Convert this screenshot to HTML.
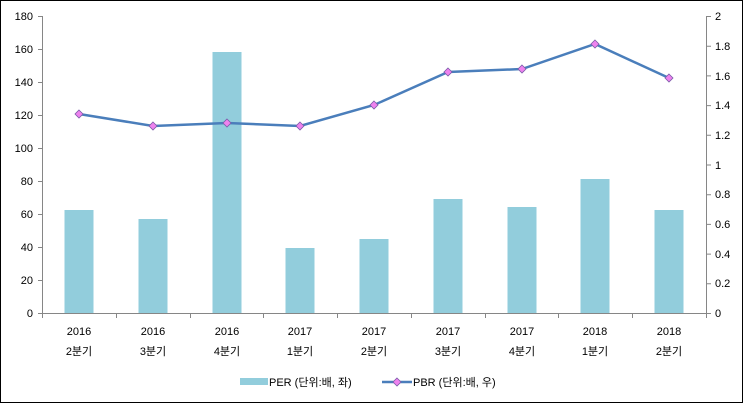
<!DOCTYPE html>
<html><head><meta charset="utf-8"><style>
html,body{margin:0;padding:0;background:#fff}
svg{display:block}
text{font-family:"Liberation Sans","Noto Sans CJK KR",sans-serif;font-size:11px;fill:#000}
</style></head><body>
<svg width="743" height="403" viewBox="0 0 743 403">
<rect x="0.5" y="0.5" width="742" height="402" fill="#fff" stroke="#000"/>
<g fill="#92cddc">
<rect x="64.5" y="210" width="29" height="103"/>
<rect x="138.5" y="219" width="29" height="94"/>
<rect x="212.5" y="52" width="29" height="261"/>
<rect x="285.5" y="248" width="29" height="65"/>
<rect x="359.5" y="239" width="29" height="74"/>
<rect x="433.5" y="199" width="29" height="114"/>
<rect x="507.5" y="207" width="29" height="106"/>
<rect x="580.5" y="179" width="29" height="134"/>
<rect x="654.5" y="210" width="29" height="103"/>
</g>
<g stroke="#868686" stroke-width="1" fill="none">
<path d="M42.5 16V313.5H706.5V16"/>
<path d="M38 16.5h4.5M38 49.5h4.5M38 82.5h4.5M38 115.5h4.5M38 148.5h4.5M38 181.5h4.5M38 214.5h4.5M38 247.5h4.5M38 280.5h4.5M38 313.5h4.5"/>
<path d="M706.5 16.5h4.5M706.5 46.2h4.5M706.5 75.9h4.5M706.5 105.6h4.5M706.5 135.3h4.5M706.5 165h4.5M706.5 194.7h4.5M706.5 224.4h4.5M706.5 254.1h4.5M706.5 283.8h4.5M706.5 313.5h4.5"/>
<path d="M42.5 313v5M116.5 313v5M190.5 313v5M263.5 313v5M337.5 313v5M411.5 313v5M485.5 313v5M558.5 313v5M632.5 313v5M706.5 313v5"/>
</g>
<g text-anchor="end">
<text x="33" y="20">180</text><text x="33" y="53">160</text><text x="33" y="86">140</text><text x="33" y="119">120</text><text x="33" y="152">100</text><text x="33" y="185">80</text><text x="33" y="218">60</text><text x="33" y="251">40</text><text x="33" y="284">20</text><text x="33" y="317">0</text>
</g>
<g text-anchor="start">
<text x="715" y="20">2</text><text x="715" y="50">1.8</text><text x="715" y="80">1.6</text><text x="715" y="109">1.4</text><text x="715" y="139">1.2</text><text x="715" y="169">1</text><text x="715" y="198">0.8</text><text x="715" y="228">0.6</text><text x="715" y="258">0.4</text><text x="715" y="287">0.2</text><text x="715" y="317">0</text>
</g>
<g text-anchor="middle" font-size="12">
<text x="79" y="335">2016</text><text x="79" y="355">2분기</text>
<text x="153" y="335">2016</text><text x="153" y="355">3분기</text>
<text x="227" y="335">2016</text><text x="227" y="355">4분기</text>
<text x="300" y="335">2017</text><text x="300" y="355">1분기</text>
<text x="374" y="335">2017</text><text x="374" y="355">2분기</text>
<text x="448" y="335">2017</text><text x="448" y="355">3분기</text>
<text x="522" y="335">2017</text><text x="522" y="355">4분기</text>
<text x="595" y="335">2018</text><text x="595" y="355">1분기</text>
<text x="669" y="335">2018</text><text x="669" y="355">2분기</text>
</g>
<polyline points="79,114 153,126 227,123 300,126 374,105 448,72 522,69 595,44 669,78" fill="none" stroke="#4a7ebb" stroke-width="2.5"/>
<g fill="#ee82ee" stroke="#7a5ba8" stroke-width="0.8">
<path d="M79 110l4 4-4 4-4-4z"/><path d="M153 122l4 4-4 4-4-4z"/><path d="M227 119l4 4-4 4-4-4z"/>
<path d="M300 122l4 4-4 4-4-4z"/><path d="M374 101l4 4-4 4-4-4z"/><path d="M448 68l4 4-4 4-4-4z"/>
<path d="M522 65l4 4-4 4-4-4z"/><path d="M595 40l4 4-4 4-4-4z"/><path d="M669 74l4 4-4 4-4-4z"/>
</g>
<rect x="240" y="378" width="28" height="7" fill="#92cddc"/>
<text x="269" y="386">PER (단위:배, 좌)</text>
<line x1="382" y1="382" x2="412" y2="382" stroke="#4a7ebb" stroke-width="2.5"/>
<path d="M397 378l4 4-4 4-4-4z" fill="#ee82ee" stroke="#7a5ba8" stroke-width="0.8"/>
<text x="413" y="386">PBR (단위:배, 우)</text>
</svg>
</body></html>
